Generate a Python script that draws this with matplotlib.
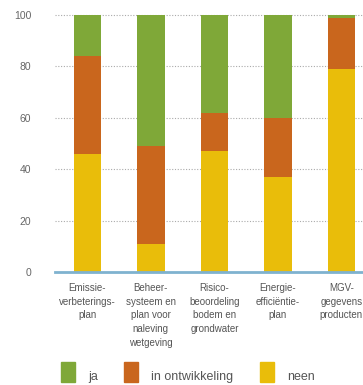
import matplotlib
matplotlib.use("Agg")
import matplotlib.pyplot as plt
from matplotlib.patches import Rectangle

categories = ["Emissie-\nverbeterings-\nplan",
              "Beheer-\nsysteem en\nplan voor\nnaleving\nwetgeving",
              "Risico-\nbeoordeling\nbodem en\ngrondwater",
              "Energie-\nefficiëntie-\nplan",
              "MGV-\ngegevens\nproducten"]
neen = [46, 11, 47, 37, 79]
ontwikkeling = [38, 38, 15, 23, 20]
ja = [16, 51, 38, 40, 1]
series_labels = ["ja", "in ontwikkeling", "neen"]
yticks = [0, 20, 40, 60, 80, 100]

c_ja = "#7fa838"
c_ont = "#c9661d"
c_neen = "#e9bd0a"

plt.rcParams['font.family'] = ["Liberation Sans", "DejaVu Sans"]

fig = plt.figure(figsize=(3.63, 3.85), dpi=100)
ax = fig.add_axes([55/363, (385-272)/385, 1-55/363, (272-15)/385])

x = list(range(len(categories)))
w = 0.43
b2 = [n for n in neen]
b3 = [n + o for n, o in zip(neen, ontwikkeling)]
ax.bar(x, neen, w, color=c_neen, zorder=2, clip_on=False)
ax.bar(x, ontwikkeling, w, bottom=b2, color=c_ont, zorder=2, clip_on=False)
ax.bar(x, ja, w, bottom=b3, color=c_ja, zorder=2, clip_on=False)

ax.set_xlim(-0.51, 4.34)
ax.set_ylim(0, 100)
ax.set_yticks(yticks)
ax.set_yticklabels([str(t) for t in yticks])
ax.set_xticks(x)
ax.set_xticklabels(categories, linespacing=1.45)
for s in ["top", "right", "left"]:
    ax.spines[s].set_visible(False)
ax.spines["bottom"].set_color("#7fb2cf")
ax.spines["bottom"].set_linewidth(2)
ax.spines["bottom"].set_zorder(3)
ax.tick_params(axis="y", length=0, pad=17, labelsize=7.5, labelcolor="#666666")
ax.tick_params(axis="x", length=0, pad=8, labelsize=7, labelcolor="#555555")
for t in yticks[1:]:
    ax.axhline(t, color="#aaaaaa", linestyle=(0, (1, 1.5)), linewidth=0.8, zorder=1, clip_on=False)

# legend
leg_x = [61, 124, 260]
txt_x = [88, 151, 287]
cols = [c_ja, c_ont, c_neen]
for lx, tx, c, lab in zip(leg_x, txt_x, cols, series_labels):
    fig.patches.append(Rectangle((lx/363, (385-382)/385), 14/363, 20/385,
                                 transform=fig.transFigure, color=c, figure=fig))
    fig.text(tx/363, (385-377)/385, lab, fontsize=9, color="#555555", va="center", ha="left")

fig.savefig("out.png", dpi=100)
